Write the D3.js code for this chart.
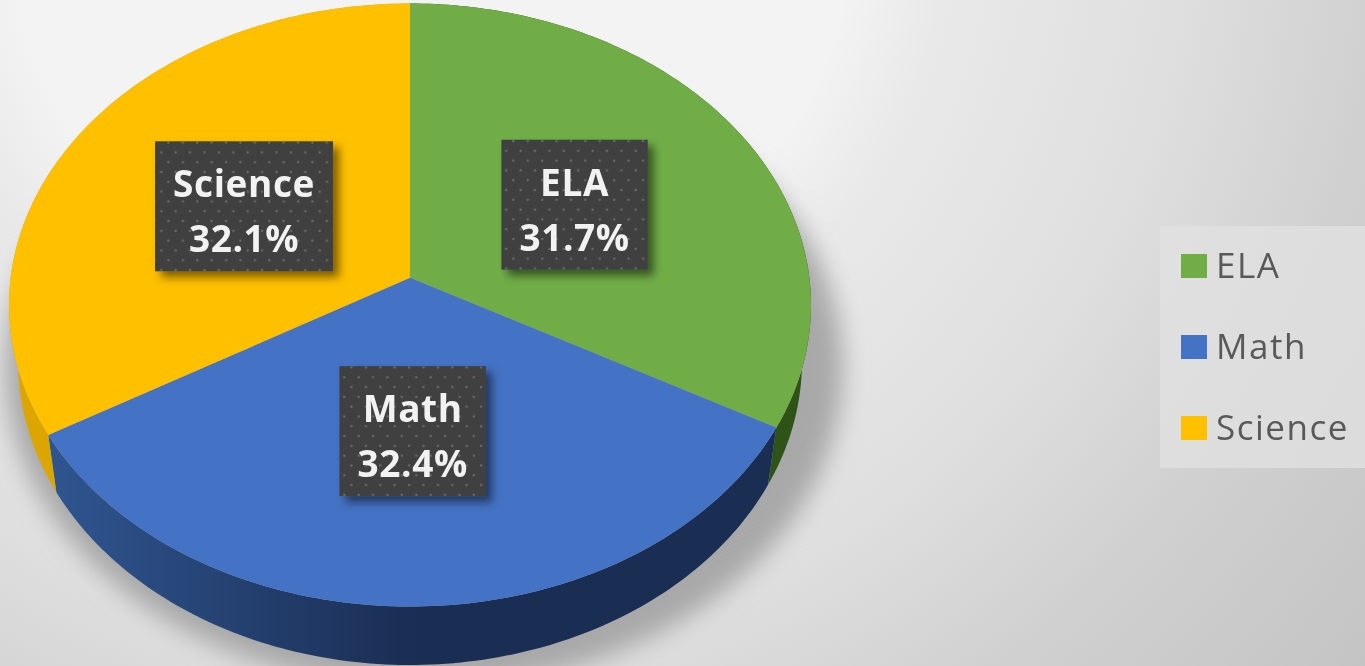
<!DOCTYPE html>
<html>
<head>
<meta charset="utf-8">
<script src="https://cdn.jsdelivr.net/npm/d3@7"></script>
<style>
  html, body { margin: 0; padding: 0; background: #ddd; overflow: hidden; }
  svg { display: block; filter: blur(0.6px); }
  text { font-family: "Open Sans", Lato, sans-serif; }
</style>
</head>
<body>
<div id="chart"></div>
<script>
// data
const categories = ["ELA", "Math", "Science"];
const percents = [31.7, 32.4, 32.1];

const topColors = ["#70ad47", "#4472c4", "#ffc000"];
const sideColors = ["#2f5216", "url(#mathSide)", "#dba600"];

const width = 1365, height = 666;

// the pie is tilted with some perspective, so the middle of the pie
// is not the middle of the ellipse
const topRim = { cx: 410, cy: 305, rx: 401, ry: 301.5 };
const lowRim = { cx: 410, cy: 361, rx: 392, ry: 304 };
const tilt = -0.09;

function project(rim, angle, r = 1) {
    const s = Math.sin(angle) * r, v = -Math.cos(angle) * r;
    const d = 1 + tilt * v;
    return [
        rim.cx + rim.rx * s * Math.sqrt(1 - tilt * tilt) / d,
        rim.cy + rim.ry * (v + tilt) / d
    ];
}

const svg = d3.select("#chart")
    .append("svg")
    .attr("width", width)
    .attr("height", height);

const defs = svg.append("defs");

const bg = defs.append("radialGradient")
    .attr("id", "bg")
    .attr("gradientUnits", "userSpaceOnUse")
    .attr("cx", 430).attr("cy", -100).attr("r", 1210);
[[0.35, "#f3f3f3"], [0.43, "#e9e9e9"], [0.62, "#dfdfdf"], [0.7, "#d8d8d8"], [0.79, "#d0d0d0"], [1, "#c4c4c4"]]
    .forEach(s => bg.append("stop").attr("offset", s[0]).attr("stop-color", s[1]));

const mathSide = defs.append("linearGradient")
    .attr("id", "mathSide")
    .attr("gradientUnits", "userSpaceOnUse")
    .attr("x1", 50).attr("x2", 420).attr("y1", 0).attr("y2", 0);
mathSide.append("stop").attr("offset", 0).attr("stop-color", "#2f5590");
mathSide.append("stop").attr("offset", 1).attr("stop-color", "#1a2d52");

defs.append("filter").attr("id", "pieShadow")
    .attr("x", "-10%").attr("y", "-10%").attr("width", "120%").attr("height", "120%")
    .append("feGaussianBlur").attr("stdDeviation", 12);

const labelShadow = defs.append("filter").attr("id", "labelShadow")
    .attr("x", "-20%").attr("y", "-20%").attr("width", "140%").attr("height", "140%");
labelShadow.append("feDropShadow")
    .attr("dx", 6).attr("dy", 6).attr("stdDeviation", 4)
    .attr("flood-color", "#000").attr("flood-opacity", 0.5);

const dots = defs.append("pattern").attr("id", "dots")
    .attr("patternUnits", "userSpaceOnUse")
    .attr("width", 14.4).attr("height", 19.6);
dots.append("rect").attr("width", 14.4).attr("height", 19.6).attr("fill", "#404040");
[[3.6, 4.9], [10.8, 14.7]].forEach(p => {
    dots.append("circle").attr("cx", p[0]).attr("cy", p[1]).attr("r", 1.2).attr("fill", "#6a6a6a");
});

svg.append("rect")
    .attr("width", width)
    .attr("height", height)
    .attr("fill", "url(#bg)");

// shadow under the pie
svg.append("ellipse")
    .attr("cx", 424).attr("cy", 368)
    .attr("rx", 419).attr("ry", 320)
    .attr("fill", "#a8a8a8")
    .attr("filter", "url(#pieShadow)");

const pie = d3.pie().sort(null);
const arcs = pie(percents);
const line = d3.line();

function rimPoints(rim, a0, a1) {
    return d3.range(0, 121).map(i => project(rim, a0 + (a1 - a0) * i / 120));
}

// side wall
svg.selectAll(".side")
    .data(arcs)
    .enter()
    .append("path")
    .attr("class", "side")
    .attr("fill", (d, i) => sideColors[i])
    .attr("d", d => line(rimPoints(topRim, d.startAngle, d.endAngle)
        .concat(rimPoints(lowRim, d.endAngle, d.startAngle))) + "Z");

// top face
svg.selectAll(".slice")
    .data(arcs)
    .enter()
    .append("path")
    .attr("class", "slice")
    .attr("fill", (d, i) => topColors[i])
    .attr("d", d => line([project(topRim, 0, 0)]
        .concat(rimPoints(topRim, d.startAngle, d.endAngle))) + "Z");

// data labels
const labels = svg.selectAll(".label")
    .data(arcs)
    .enter()
    .append("g")
    .attr("class", "label")
    .attr("transform", d => {
        const p = project(topRim, (d.startAngle + d.endAngle) / 2, 0.49);
        return `translate(${p[0]},${p[1]})`;
    });

const labelBox = labels.append("rect")
    .attr("fill", "url(#dots)")
    .attr("filter", "url(#labelShadow)");

const labelName = labels.append("text")
    .attr("y", -9)
    .attr("text-anchor", "middle")
    .attr("fill", "#f2f2f2")
    .style("font-size", "37px")
    .style("font-weight", 700)
    .style("letter-spacing", "0.6px")
    .text((d, i) => categories[i]);

const labelValue = labels.append("text")
    .attr("y", 46)
    .attr("text-anchor", "middle")
    .attr("fill", "#f2f2f2")
    .style("font-size", "37px")
    .style("font-weight", 700)
    .style("letter-spacing", "0.6px")
    .text(d => d.value.toFixed(1) + "%");

labelBox.each(function(d, i) {
    const w = Math.max(labelName.nodes()[i].getComputedTextLength(),
                       labelValue.nodes()[i].getComputedTextLength()) + 36;
    d3.select(this)
        .attr("x", -w / 2).attr("y", -65)
        .attr("width", w).attr("height", 130);
});

// legend
svg.append("rect")
    .attr("x", 1160).attr("y", 226)
    .attr("width", 205).attr("height", 242)
    .attr("fill", "#e2e2e2")
    .attr("fill-opacity", 0.75);

const legendY = d3.scalePoint()
    .domain(categories)
    .range([266, 428]);

const legendRow = svg.selectAll(".legend-row")
    .data(categories)
    .enter()
    .append("g")
    .attr("class", "legend-row")
    .attr("transform", d => `translate(1181,${legendY(d)})`);

legendRow.append("rect")
    .attr("y", -12)
    .attr("width", 26)
    .attr("height", 24)
    .attr("fill", (d, i) => topColors[i]);

legendRow.append("text")
    .attr("x", 35)
    .attr("y", 12)
    .attr("fill", "#595959")
    .style("font-size", "35px")
    .style("letter-spacing", "1.5px")
    .text(d => d);
</script>
</body>
</html>
